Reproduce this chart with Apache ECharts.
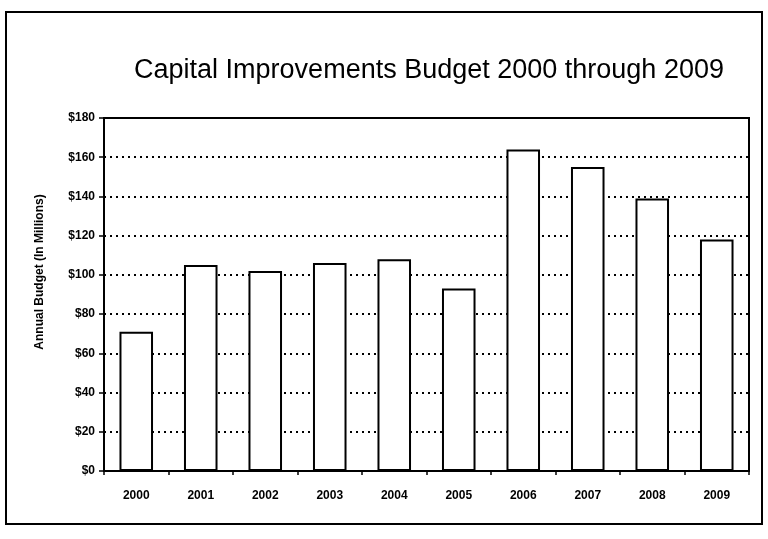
<!DOCTYPE html>
<html>
<head>
<meta charset="utf-8">
<script src="https://cdn.jsdelivr.net/npm/echarts@6/dist/echarts.min.js"></script>
<style>html,body{margin:0;padding:0;background:#fff;}#c{width:768px;height:539px;}</style>
</head>
<body>
<div id="c"></div>
<script>
var years = ['2000','2001','2002','2003','2004','2005','2006','2007','2008','2009'];
var budget = [71, 105, 102, 106, 108, 93, 164, 155, 139, 118];
var titleText = 'Capital Improvements Budget 2000 through 2009';
var yAxisName = 'Annual Budget (In Millions)';

var chart = echarts.init(document.getElementById('c'));
chart.setOption({
  backgroundColor: '#fff',
  animation: false,
  title: {
    text: titleText,
    left: 424, top: 52, textAlign: 'center',
    textStyle: {fontFamily: 'Liberation Sans, Arial', fontSize: 27, fontWeight: 'normal', color: '#000'}
  },
  graphic: [{
    type: 'rect', shape: {x: 6, y: 12, width: 756, height: 512},
    style: {fill: null, stroke: '#000', lineWidth: 2}, silent: true, z: -1
  }, {
    type: 'text', x: 40, y: 272, rotation: Math.PI / 2,
    style: {text: yAxisName, fill: '#000', font: 'bold 12px "Liberation Sans", Arial', align: 'center', verticalAlign: 'middle'},
    silent: true
  }],
  grid: {left: 104, right: 19, top: 118, bottom: 68, show: true, borderColor: '#000', borderWidth: 2, backgroundColor: 'transparent'},
  xAxis: {
    type: 'category', data: years,
    axisLine: {lineStyle: {color: '#000', width: 2}},
    axisTick: {show: true, interval: 0, length: 4, lineStyle: {color: '#000', width: 1.5}},
    axisLabel: {color: '#000', fontFamily: 'Liberation Sans, Arial', fontSize: 12, fontWeight: 'bold', margin: 19}
  },
  yAxis: {
    type: 'value', min: 0, max: 180, interval: 20,
    axisLine: {show: true, lineStyle: {color: '#000', width: 2}},
    axisTick: {show: true, length: 5, lineStyle: {color: '#000', width: 1.5}},
    axisLabel: {color: '#000', fontFamily: 'Liberation Sans, Arial', fontSize: 12, fontWeight: 'bold', margin: 9,
      formatter: function (v) { return '$' + v; }},
    splitLine: {show: true, lineStyle: {color: '#000', type: [2, 4], width: 2}}
  },
  series: [{
    type: 'bar', data: budget, barWidth: '52%',
    itemStyle: {color: '#fff', borderColor: '#000', borderWidth: 2}
  }]
});
</script>
</body>
</html>
